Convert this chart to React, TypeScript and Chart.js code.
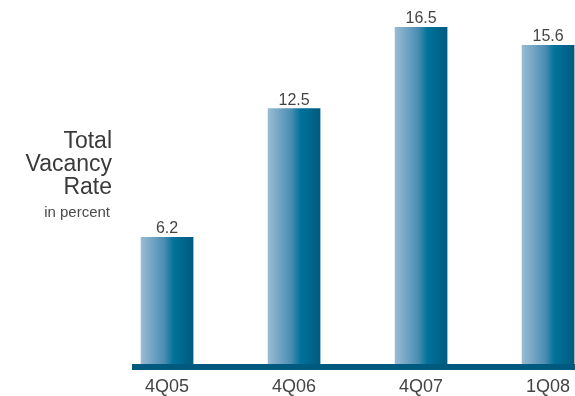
import React, { useEffect, useRef } from "react";
import { Chart, registerables } from "chart.js";

Chart.register(...registerables);

const categories = ["4Q05", "4Q06", "4Q07", "1Q08"];
const vacancyRate = [6.2, 12.5, 16.5, 15.6];
const titleLines = ["Total", "Vacancy", "Rate"];
const subtitle = "in percent";

const FONT = "'Liberation Sans', Arial, Helvetica, sans-serif";

export default function App() {
  const ref = useRef<HTMLCanvasElement | null>(null);

  useEffect(() => {
    document.body.style.margin = "0";
    const canvas = ref.current;
    if (!canvas) return;

    const decor = {
      id: "decor",
      afterDatasetsDraw(chart: any) {
        const { ctx, chartArea } = chart;
        ctx.save();
        ctx.fillStyle = "#005a80";
        ctx.fillRect(chartArea.left, chartArea.bottom, chartArea.right - chartArea.left, 6);
        const meta = chart.getDatasetMeta(0);
        ctx.fillStyle = "#444";
        ctx.font = `16px ${FONT}`;
        ctx.textAlign = "center";
        ctx.textBaseline = "alphabetic";
        meta.data.forEach((el: any, i: number) => {
          ctx.fillText(String(vacancyRate[i]), el.x, el.y - 4);
        });
        ctx.fillStyle = "#3a3a3a";
        ctx.textAlign = "right";
        ctx.font = `23px ${FONT}`;
        titleLines.forEach((t, i) => ctx.fillText(t, 112, 148 + i * 23));
        ctx.font = `15px ${FONT}`;
        ctx.fillStyle = "#4a4a4a";
        ctx.fillText(subtitle, 110, 217);
        ctx.restore();
      },
    };

    const chart = new Chart(canvas, {
      type: "bar",
      data: {
        datasets: [
          {
            data: vacancyRate.map((v, i) => ({ x: i, y: v })),
            barThickness: 52,
            borderWidth: 0,
            backgroundColor: (c: any) => {
              const chartObj = c.chart;
              const xs = chartObj.scales && chartObj.scales.x;
              if (!xs || c.dataIndex === undefined) return "#3f86ad";
              const cx = xs.getPixelForValue(c.dataIndex);
              if (!Number.isFinite(cx)) return "#3f86ad";
              const g = chartObj.ctx.createLinearGradient(cx - 26, 0, cx + 26, 0);
              g.addColorStop(0, "#98bcd4");
              g.addColorStop(0.45, "#4a8cb1");
              g.addColorStop(0.62, "#00739a");
              g.addColorStop(1, "#005a7f");
              return g;
            },
          },
        ],
      },
      options: {
        animation: false,
        responsive: false,
        layout: { padding: { left: 132, right: 0, top: 27, bottom: 0 } },
        plugins: { legend: { display: false }, tooltip: { enabled: false } },
        scales: {
          x: {
            type: "linear",
            offset: false,
            min: -0.276,
            max: 3.212,
            grid: { display: false, drawTicks: false, offset: false },
            border: { display: false },
            afterBuildTicks: (s: any) => {
              s.ticks = categories.map((_, i) => ({ value: i }));
            },
            afterFit: (s: any) => {
              s.height = 32;
              s.paddingLeft = 0;
              s.paddingRight = 0;
            },
            ticks: {
              padding: 12,
              color: "#444",
              font: { family: FONT, size: 18 },
              callback: (v: any) => categories[Math.round(Number(v))] ?? "",
            },
          },
          y: {
            display: false,
            min: 0,
            max: 16.5,
          },
        },
      },
      plugins: [decor],
    });
    return () => chart.destroy();
  }, []);

  return <canvas ref={ref} width={575} height={396} style={{ display: "block" }} />;
}
